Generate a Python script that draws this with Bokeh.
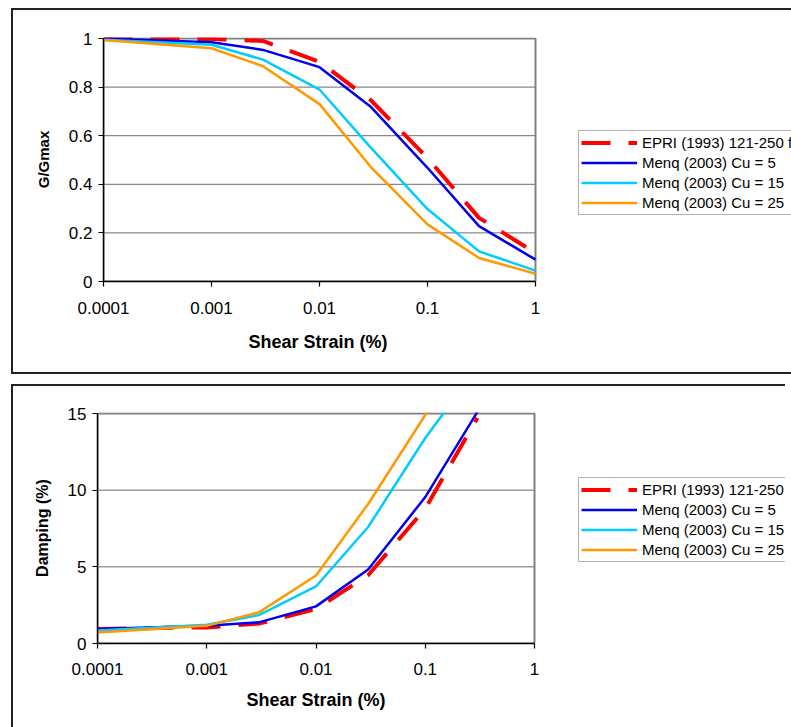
from bokeh.plotting import figure
from bokeh.models import FixedTicker, Legend, LegendItem, Range1d, Title
from bokeh.layouts import column
from bokeh.embed import file_html
from bokeh.resources import INLINE

# ---------------- data ----------------
series_names = ["EPRI (1993) 121-250 ft", "Menq (2003) Cu = 5",
                "Menq (2003) Cu = 15", "Menq (2003) Cu = 25"]
series_colors = ["#ff0000", "#0000ee", "#00ccff", "#ff9900"]

strain_g = [0.0001, 0.001, 0.003, 0.01, 0.03, 0.1, 0.3, 1.0]
g_epri = [1.0, 0.998, 0.99, 0.904, 0.745, 0.508, 0.262, 0.118]
g_cu5 = [1.0, 0.985, 0.953, 0.882, 0.718, 0.468, 0.228, 0.090]
g_cu15 = [0.995, 0.974, 0.913, 0.790, 0.550, 0.298, 0.124, 0.045]
g_cu25 = [0.994, 0.960, 0.886, 0.730, 0.470, 0.235, 0.097, 0.032]

strain_d = [0.0001, 0.001, 0.003, 0.01, 0.03, 0.1, 0.3]
d_epri = [0.95, 1.05, 1.30, 2.25, 4.45, 8.8, 14.7]
d_cu5 = [0.95, 1.15, 1.38, 2.42, 4.82, 9.55, 15.1]
d_cu15 = [0.85, 1.22, 1.85, 3.72, 7.60, 13.4, 18.0]
d_cu25 = [0.72, 1.15, 2.03, 4.43, 9.10, 14.9, 20.0]

x_ticks = [0.0001, 0.001, 0.01, 0.1, 1]
x_tick_labels = ["0.0001", "0.001", "0.01", "0.1", "1"]
g_ticks = [0, 0.2, 0.4, 0.6, 0.8, 1]
g_tick_labels = ["0", "0.2", "0.4", "0.6", "0.8", "1"]
d_ticks = [0, 5, 10, 15]
d_tick_labels = ["0", "5", "10", "15"]

x_title = "Shear Strain (%)"
FONT = "Liberation Sans"
W = 791
CANVAS_LEFT = 103   # shared frame-left border of both figures (Bokeh aligns them)


def panel_border_css(left, top, bottom):
    c = "#222222"
    return {
        "background": (
            f"linear-gradient({c},{c}) {left}px {top}px / 2px {bottom - top}px no-repeat, "
            f"linear-gradient({c},{c}) {left}px {top}px / 820px 2px no-repeat, "
            f"linear-gradient({c},{c}) {left}px {bottom - 2}px / 820px 2px no-repeat, "
            "white"
        )
    }


def make_panel(height, fl, fr, ft, fb, y_ticks, y_labels, ylabel,
               ylabel_size, xs, ys_list, legend_loc, panel_top, panel_bottom,
               lab_standoff, title_offset, title_standoff):
    shift = CANVAS_LEFT - fl          # canvas moved left by this many pixels
    y_end = y_ticks[-1]
    decade_px = (fr - fl) / 4.0
    frame_px = W - CANVAS_LEFT
    x_end = 10 ** (-4 + frame_px / decade_px)         # frame spans to the canvas edge
    y_pad = y_end / (fb - ft)                         # one pixel above the top
    p = figure(width=W, height=height, x_axis_type="log",
               x_range=Range1d(x_ticks[0], x_end),
               y_range=Range1d(y_ticks[0], y_end + y_pad),
               output_backend="svg", toolbar_location=None,
               min_border_left=CANVAS_LEFT, min_border_right=0,
               min_border_top=ft - 1, min_border_bottom=height - fb)
    if shift:
        p.margin = (0, 0, 0, -shift)
    p.background_fill_color = "white"
    p.border_fill_alpha = 0
    p.styles = panel_border_css(11 + shift, panel_top, panel_bottom)
    p.outline_line_color = None
    p.xgrid.visible = False
    p.ygrid.visible = False

    # horizontal gridlines and plot-area border, limited to the data range
    p.segment(x0=[x_ticks[0]] * len(y_ticks), x1=[x_ticks[-1]] * len(y_ticks),
              y0=y_ticks, y1=y_ticks, line_color="#6b6b6b", line_width=1)
    p.quad(left=[x_ticks[0]], right=[x_ticks[-1]], bottom=[y_ticks[0]],
           top=[y_end], fill_color=None, line_color="#808080", line_width=2)

    p.xaxis.ticker = FixedTicker(ticks=x_ticks)
    p.xaxis.major_label_overrides = dict(zip(x_ticks, x_tick_labels))
    p.xaxis.bounds = (x_ticks[0], x_ticks[-1])
    p.yaxis.ticker = FixedTicker(ticks=y_ticks)
    p.yaxis.major_label_overrides = dict(zip(y_ticks, y_labels))
    p.yaxis.bounds = (y_ticks[0], y_end)

    for ax in (p.xaxis[0], p.yaxis[0]):
        ax.axis_line_color = "black"
        ax.axis_line_width = 1.5
        ax.major_tick_line_color = "black"
        ax.major_tick_line_width = 1.2
        ax.major_tick_out = 5
        ax.major_tick_in = 0
        ax.minor_tick_line_color = None
        ax.major_label_text_font = FONT
        ax.major_label_text_font_size = "17px"
        ax.major_label_text_color = "black"
        ax.axis_label_text_font = FONT
        ax.axis_label_text_font_style = "bold"
        ax.axis_label_text_color = "black"

    p.xaxis.major_label_standoff = lab_standoff
    p.yaxis.axis_label = ylabel
    p.yaxis.axis_label_text_font_size = ylabel_size
    p.yaxis.major_label_standoff = 6
    p.yaxis.axis_label_standoff = 14

    t = Title(text=x_title, align="left", offset=title_offset,
              standoff=title_standoff, vertical_align="top",
              text_font=FONT, text_font_size="18px", text_font_style="bold",
              text_color="black")
    p.add_layout(t, "below")

    renderers = []
    for i, ys in enumerate(ys_list):
        if i == 0:
            r = p.line(xs, ys, line_color=series_colors[i], line_width=4,
                       line_dash="29 18")
        else:
            r = p.line(xs, ys, line_color=series_colors[i], line_width=2.5)
        renderers.append(r)

    legend = Legend(items=[LegendItem(label=n, renderers=[r])
                           for n, r in zip(series_names, renderers)],
                    location=legend_loc)
    legend.border_line_color = "#666666"
    legend.border_line_width = 1.5
    legend.background_fill_color = "white"
    legend.background_fill_alpha = 1
    legend.padding = 2
    legend.spacing = 1
    legend.margin = 0
    legend.glyph_width = 56
    legend.glyph_height = 19
    legend.label_height = 19
    legend.label_standoff = 5
    legend.label_text_font = FONT
    legend.label_text_font_size = "15px"
    legend.label_text_color = "black"
    p.add_layout(legend, "center")
    return p


p1 = make_panel(378, 103, 535, 38, 281, g_ticks, g_tick_labels, "G/Gmax",
                "15px", strain_g, [g_epri, g_cu5, g_cu15, g_cu25],
                (475, 66), 8, 374, 15, 145, 30)
p2 = make_panel(349, 97, 534, 35, 265, d_ticks, d_tick_labels, "Damping (%)",
                "16px", strain_d, [d_epri, d_cu5, d_cu15, d_cu25],
                (481, 81), 6, 420, 14, 149, 25)

layout = column(p1, p2, spacing=0)
open("out.html", "w").write(file_html(layout, INLINE))
